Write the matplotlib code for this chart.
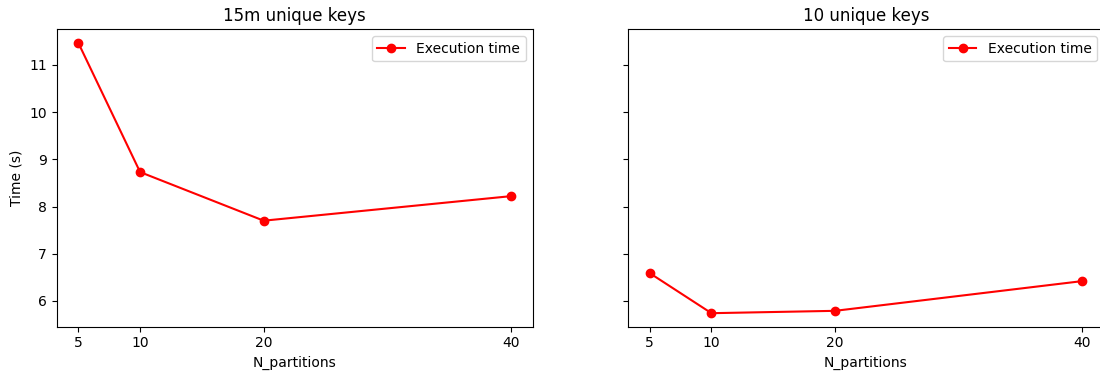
import matplotlib
matplotlib.use('Agg')
import matplotlib.pyplot as plt

# data
n_partitions = [5, 10, 20, 40]
time_15m = [11.47, 8.73, 7.70, 8.22]
time_10 = [6.59, 5.74, 5.79, 6.42]

fig = plt.figure(figsize=(11, 3.77), dpi=100)
ax1 = fig.add_axes([0.0515, 0.1334, 0.4327, 0.789])
ax2 = fig.add_axes([0.5709, 0.1334, 0.4327, 0.789], sharey=ax1)

ax1.plot(n_partitions, time_15m, 'o-', color='red', label='Execution time')
ax1.set_title('15m unique keys')
ax1.set_xlabel('N_partitions')
ax1.set_ylabel('Time (s)')
ax1.set_xticks(n_partitions)
ax1.legend(loc='upper right')

ax2.plot(n_partitions, time_10, 'o-', color='red', label='Execution time')
ax2.set_title('10 unique keys')
ax2.set_xlabel('N_partitions')
ax2.set_xticks(n_partitions)
ax2.tick_params(labelleft=False)
ax2.legend(loc='upper right')

plt.savefig('out.png', dpi=100, facecolor='white')
